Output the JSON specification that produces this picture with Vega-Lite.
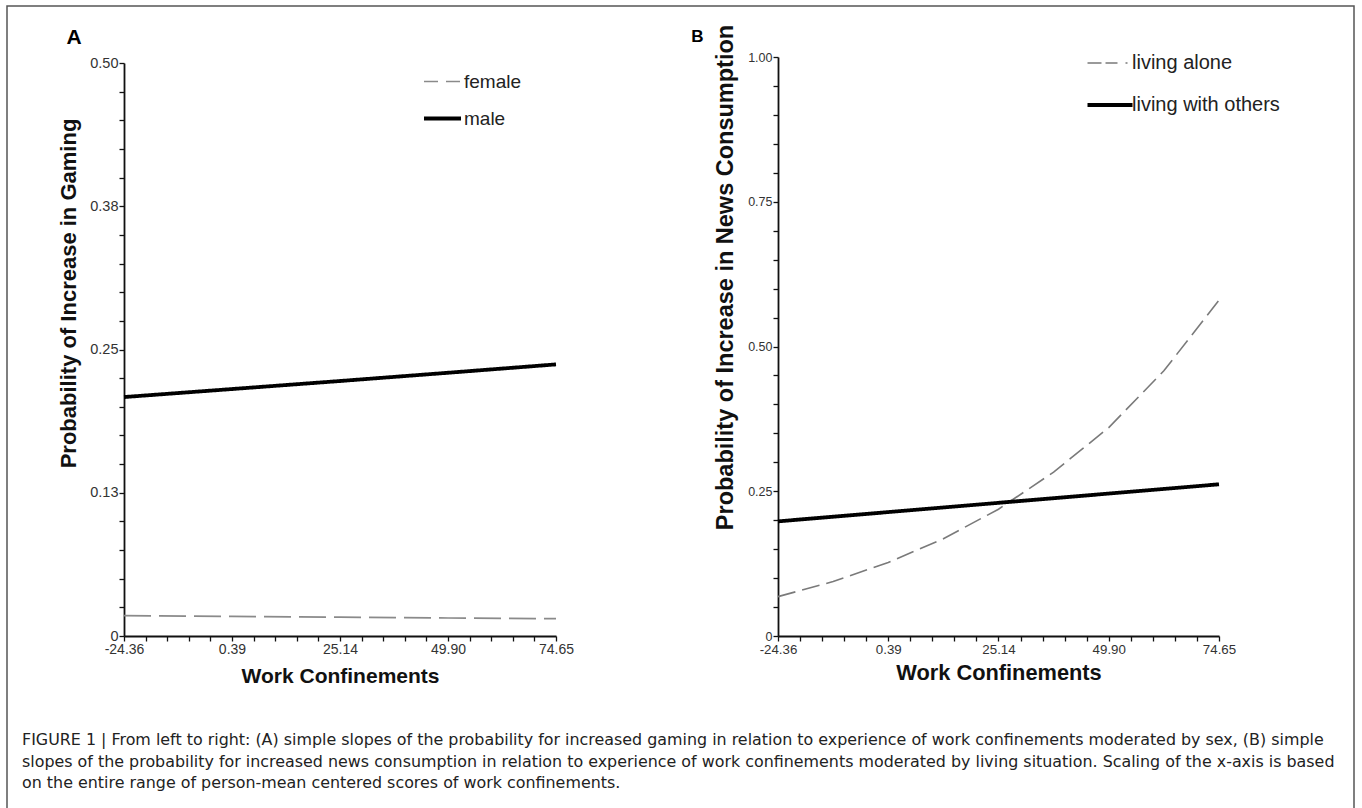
{
  "$schema": "https://vega.github.io/schema/vega-lite/v6.json",
  "width": 1347,
  "height": 802,
  "autosize": {"type": "none"},
  "padding": {"left": 7, "top": 6, "right": 8, "bottom": 0},
  "background": "white",
  "config": {
    "view": {"stroke": "#555555", "strokeWidth": 1.5, "strokeDash": [2149, 1347, 802]},
    "font": "Liberation Sans",
    "axis": {
      "grid": false,
      "domainColor": "#111111",
      "domainWidth": 1.8,
      "tickColor": "#111111",
      "tickWidth": 1.3,
      "tickSize": 5,
      "labelFont": "Liberation Sans",
      "labelFontSize": 14,
      "labelColor": "#333333",
      "labelPadding": 1,
      "labelOverlap": false,
      "labelFlush": false,
      "titleFont": "Liberation Sans",
      "titleFontWeight": "bold",
      "titleFontSize": 21,
      "titleColor": "#111111"
    },
    "legend": {"padding": 0, "labelFont": "Liberation Sans", "labelColor": "#222222", "labelLimit": 400}
  },
  "title": {
    "text": [
      "FIGURE 1 | From left to right: (A) simple slopes of the probability for increased gaming in relation to experience of work confinements moderated by sex, (B) simple",
      "slopes of the probability for increased news consumption in relation to experience of work confinements moderated by living situation. Scaling of the x-axis is based",
      "on the entire range of person-mean centered scores of work confinements."
    ],
    "orient": "bottom",
    "anchor": "start",
    "frame": "group",
    "offset": -76,
    "dx": 15,
    "font": "DejaVu Sans",
    "fontSize": 15.9,
    "fontWeight": "normal",
    "color": "#222222",
    "lineHeight": 21.5
  },
  "datasets": {
    "gaming": [
      {"wc": -24.36, "p": 0.0178, "sex": "female"},
      {"wc": 0.39, "p": 0.0171, "sex": "female"},
      {"wc": 25.14, "p": 0.0164, "sex": "female"},
      {"wc": 49.9, "p": 0.0157, "sex": "female"},
      {"wc": 74.65, "p": 0.0151, "sex": "female"},
      {"wc": -24.36, "p": 0.2085, "sex": "male"},
      {"wc": 0.39, "p": 0.2155, "sex": "male"},
      {"wc": 25.14, "p": 0.2225, "sex": "male"},
      {"wc": 49.9, "p": 0.2297, "sex": "male"},
      {"wc": 74.65, "p": 0.237, "sex": "male"}
    ],
    "news": [
      {"wc": -24.36, "p": 0.068, "living": "living alone"},
      {"wc": -11.98, "p": 0.094, "living": "living alone"},
      {"wc": 0.39, "p": 0.127, "living": "living alone"},
      {"wc": 12.77, "p": 0.168, "living": "living alone"},
      {"wc": 25.14, "p": 0.219, "living": "living alone"},
      {"wc": 37.52, "p": 0.283, "living": "living alone"},
      {"wc": 49.9, "p": 0.36, "living": "living alone"},
      {"wc": 62.27, "p": 0.458, "living": "living alone"},
      {"wc": 74.65, "p": 0.58, "living": "living alone"},
      {"wc": -24.36, "p": 0.198, "living": "living with others"},
      {"wc": 0.39, "p": 0.214, "living": "living with others"},
      {"wc": 25.14, "p": 0.23, "living": "living with others"},
      {"wc": 49.9, "p": 0.246, "living": "living with others"},
      {"wc": 74.65, "p": 0.262, "living": "living with others"}
    ],
    "labelA": [{"t": "A"}],
    "labelB": [{"t": "B"}]
  },
  "layer": [
    {
      "layer": [
        {
          "data": {"name": "gaming"},
          "mark": {"type": "line"},
          "encoding": {
            "x": {
              "field": "wc",
              "type": "quantitative",
              "scale": {"domain": [-24.36, 74.65], "range": [117, 549], "nice": false, "zero": false},
              "axis": {
                "orient": "bottom",
                "offset": -172,
                "values": [-24.36, -19.41, -14.46, -9.51, -4.56, 0.39, 5.34, 10.29, 15.24, 20.19, 25.14, 30.09, 35.04, 39.99, 44.94, 49.9, 54.85, 59.8, 64.75, 69.7, 74.65],
                "labelExpr": "indexof([-24.36, 0.39, 25.14, 49.9, 74.65], datum.value) >= 0 ? replace(format(datum.value, '.2f'), '−', '-') : ''",
                "labelFontSize": 14,
                "title": "Work Confinements",
                "titleFontSize": 21,
                "titlePadding": 9
              }
            },
            "y": {
              "field": "p",
              "type": "quantitative",
              "scale": {"domain": [0, 0.5], "range": [630, 57], "nice": false, "zero": false},
              "axis": {
                "orient": "left",
                "offset": -117,
                "values": [0, 0.025, 0.05, 0.075, 0.1, 0.125, 0.15, 0.175, 0.2, 0.225, 0.25, 0.275, 0.3, 0.325, 0.35, 0.375, 0.4, 0.425, 0.45, 0.475, 0.5],
                "labelExpr": "datum.value == 0 ? '0' : (indexof([0.125, 0.25, 0.375, 0.5], datum.value) >= 0 ? format(datum.value, '.2f') : '')",
                "labelFontSize": 14.5,
                "title": "Probability of Increase in Gaming",
                "titleFontSize": 22,
                "titlePadding": 9,
                "titleY": 287
              }
            },
            "color": {
              "field": "sex",
              "type": "nominal",
              "scale": {"domain": ["female", "male"], "range": ["#8a8a8a", "#000000"]},
              "legend": {
                "orient": "none",
                "legendX": 426,
                "legendY": 66,
                "title": null,
                "symbolType": "stroke",
                "symbolSize": 1369,
                "labelFontSize": 19,
                "labelOffset": 12,
                "rowPadding": 17,
                "encode": {
                  "symbols": {
                    "update": {
                      "strokeDash": {"signal": "datum.value === 'female' ? [14, 8] : [1, 0]"},
                      "strokeWidth": {"signal": "datum.value === 'female' ? 1.6 : 4"}
                    }
                  }
                }
              }
            },
            "strokeDash": {"condition": {"test": "datum.sex === 'female'", "value": [27, 8]}, "value": [1, 0]},
            "strokeWidth": {"condition": {"test": "datum.sex === 'male'", "value": 3.8}, "value": 1.7}
          }
        },
        {
          "data": {"name": "labelA"},
          "mark": {"type": "text", "fontWeight": "bold", "fontSize": 21, "font": "Liberation Sans", "color": "#000000", "align": "center", "baseline": "middle"},
          "encoding": {
            "x": {"datum": -35.8, "type": "quantitative"},
            "y": {"datum": 0.522, "type": "quantitative"},
            "text": {"field": "t"}
          }
        }
      ]
    },
    {
      "layer": [
        {
          "data": {"name": "news"},
          "mark": {"type": "line"},
          "encoding": {
            "x": {
              "field": "wc",
              "type": "quantitative",
              "scale": {"domain": [-24.36, 74.65], "range": [771, 1212], "nice": false, "zero": false},
              "axis": {
                "orient": "bottom",
                "offset": -172,
                "values": [-24.36, -19.41, -14.46, -9.51, -4.56, 0.39, 5.34, 10.29, 15.24, 20.19, 25.14, 30.09, 35.04, 39.99, 44.94, 49.9, 54.85, 59.8, 64.75, 69.7, 74.65],
                "labelExpr": "indexof([-24.36, 0.39, 25.14, 49.9, 74.65], datum.value) >= 0 ? replace(format(datum.value, '.2f'), '−', '-') : ''",
                "labelFontSize": 13.3,
                "title": "Work Confinements",
                "titleFontSize": 21.8,
                "titlePadding": 7
              }
            },
            "y": {
              "field": "p",
              "type": "quantitative",
              "scale": {"domain": [0, 1], "range": [630, 51], "nice": false, "zero": false},
              "axis": {
                "orient": "left",
                "offset": -771,
                "values": [0, 0.05, 0.1, 0.15, 0.2, 0.25, 0.3, 0.35, 0.4, 0.45, 0.5, 0.55, 0.6, 0.65, 0.7, 0.75, 0.8, 0.85, 0.9, 0.95, 1],
                "labelExpr": "datum.value == 0 ? '0' : (indexof([0.25, 0.5, 0.75, 1], datum.value) >= 0 ? format(datum.value, '.2f') : '')",
                "labelFontSize": 12.5,
                "title": "Probability of Increase in News Consumption",
                "titleFontSize": 23.5,
                "titlePadding": 10,
                "titleY": 271
              }
            },
            "color": {
              "field": "living",
              "type": "nominal",
              "scale": {"domain": ["living alone", "living with others"], "range": ["#7a7a7a", "#000000"]},
              "legend": {
                "orient": "none",
                "legendX": 1093,
                "legendY": 47,
                "title": null,
                "symbolType": "stroke",
                "symbolSize": 2025,
                "labelFontSize": 20,
                "labelOffset": 12,
                "rowPadding": 22,
                "encode": {
                  "symbols": {
                    "update": {
                      "strokeDash": {"signal": "datum.value === 'living alone' ? [14, 4, 12, 8, 2, 20] : [1, 0]"},
                      "strokeWidth": {"signal": "datum.value === 'living alone' ? 1.6 : 4"}
                    }
                  }
                }
              }
            },
            "strokeDash": {"condition": {"test": "datum.living === 'living alone'", "value": [18, 7]}, "value": [1, 0]},
            "strokeWidth": {"condition": {"test": "datum.living === 'living with others'", "value": 3.8}, "value": 1.6}
          }
        },
        {
          "data": {"name": "labelB"},
          "mark": {"type": "text", "fontWeight": "bold", "fontSize": 17, "font": "Liberation Sans", "color": "#000000", "align": "center", "baseline": "middle"},
          "encoding": {
            "x": {"datum": -42.47, "type": "quantitative"},
            "y": {"datum": 1.0337, "type": "quantitative"},
            "text": {"field": "t"}
          }
        }
      ]
    }
  ],
  "resolve": {
    "scale": {"x": "independent", "y": "independent", "color": "independent"},
    "axis": {"x": "independent", "y": "independent"},
    "legend": {"color": "independent"}
  }
}
